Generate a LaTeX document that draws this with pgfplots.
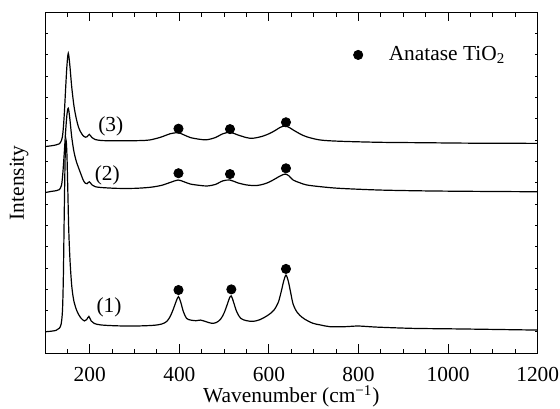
\documentclass[border=0pt]{standalone}
\usepackage{fontspec}
\setmainfont{Liberation Serif}
\usepackage{pgfplots}
\pgfplotsset{compat=1.18}

\begin{document}
\fontsize{10.7}{12.8}\selectfont
\begin{tikzpicture}
% fixed page: 560x408 px at 0.5pt per px, axis box at (45,12.3)-(537.7,353.3) px
\path[use as bounding box] (-22.5pt,-27.35pt) rectangle (257.5pt,176.65pt);
\begin{axis}[
    at={(0,0)}, anchor=south west,
    scale only axis,
    width=246.35pt,
    height=170.5pt,
    xmin=100, xmax=1200,
    ymin=0, ymax=16,
    xtick={200,400,600,800,1000,1200},
    xticklabels={200,400,600,800,1000,1200},
    minor x tick num=3,
    extra x ticks={150},
    extra x tick labels={},
    extra x tick style={major tick length=2.2pt},
    xtick pos=both,
    xtick align=inside,
    x tick style={draw=black, solid, line width=0.5pt},
    ytick=\empty,
    extra y ticks={1,2,3,4,5,6,7,8,9,10,11,12,13,14,15},
    extra y tick labels={},
    extra y tick style={major tick length=1.6pt},
    tick align=inside,
    tick style={black, line width=0.5pt},
    major tick length=4.5pt,
    minor tick length=2.2pt,
    xticklabel shift=3pt,
    xlabel={Wavenumber (cm\textsuperscript{−1})},
    ylabel={Intensity},
    xlabel style={at={(axis description cs:0.5,-0.1457)}, anchor=base},
    ylabel style={at={(axis description cs:-0.0528,0.5)}, anchor=center},
    legend style={draw=none, fill=none, inner sep=0pt, column sep=11pt,
        at={(axis description cs:0.6255,0.875)}, anchor=west},
    legend cell align=left,
]
% (1)
\addplot[black, line width=0.6pt, smooth, forget plot] coordinates {
(100,1.01)(115,1.04)(125,1.08)(132,1.18)(136,1.37)(139,2.0)(141,3.6)(143,6.6)(145,9.2)(147,10.0)(149,9.3)(151,7.6)(153,5.8)(156,4.3)(160,3.1)(165,2.4)(172,1.95)(180,1.66)(188,1.52)(193,1.58)(198,1.73)(203,1.52)(210,1.40)(225,1.33)(260,1.29)(300,1.28)(340,1.31)(360,1.37)(372,1.50)(380,1.75)(387,2.1)(393,2.45)(398,2.66)(403,2.4)(409,1.95)(416,1.64)(425,1.56)(437,1.53)(447,1.56)(460,1.48)(472,1.41)(482,1.44)(492,1.6)(500,1.9)(507,2.3)(512,2.6)(516,2.69)(521,2.4)(528,1.95)(537,1.64)(550,1.53)(565,1.50)(580,1.58)(595,1.75)(605,1.9)(612,2.05)(621,2.4)(628,2.95)(633,3.4)(638,3.67)(643,3.4)(648,2.9)(654,2.3)(662,1.95)(669,1.78)(680,1.6)(698,1.41)(715,1.33)(736,1.25)(770,1.25)(800,1.28)(840,1.23)(921,1.17)(1000,1.15)(1071,1.13)(1200,1.09)
};
% (2)
\addplot[black, line width=0.6pt, smooth, forget plot] coordinates {
(100,7.54)(115,7.6)(125,7.63)(132,7.68)(137,7.9)(140,8.5)(143,9.4)(146,10.4)(149,11.2)(152,11.5)(155.5,11.0)(159.6,10.16)(164.7,9.45)(170,9.0)(175,8.7)(180,8.42)(185.5,8.12)(190,7.98)(194,7.96)(199,8.05)(205,7.9)(212,7.82)(225,7.78)(260,7.74)(300,7.74)(335,7.79)(360,7.88)(380,8.02)(397,8.13)(410,8.05)(425,7.94)(445,7.88)(462,7.85)(480,7.92)(497,8.09)(513,8.13)(530,8.0)(550,7.9)(572,7.87)(590,7.95)(602,8.05)(615,8.2)(625,8.32)(636,8.41)(645,8.32)(654,8.13)(669,8.0)(684,7.9)(714,7.82)(758,7.74)(848,7.66)(950,7.62)(1050,7.6)(1200,7.58)
};
% (3)
\addplot[black, line width=0.6pt, smooth, forget plot] coordinates {
(100,9.7)(115,9.74)(125,9.78)(132,9.83)(137,10.0)(140,10.35)(143,11.2)(146,12.4)(149,13.5)(152,14.08)(155.5,13.5)(159.6,12.51)(164.7,11.6)(170,11.0)(175,10.6)(180,10.37)(185.5,10.2)(190,10.14)(194,10.16)(199,10.27)(205,10.12)(212,10.03)(230,9.98)(270,9.97)(310,9.98)(334,10.01)(360,10.15)(379,10.3)(397,10.35)(410,10.25)(425,10.12)(446,10.04)(461,10.02)(480,10.12)(497,10.3)(513,10.37)(530,10.25)(550,10.12)(564,10.09)(585,10.18)(602,10.32)(615,10.47)(625,10.6)(636,10.67)(645,10.6)(654,10.48)(669,10.3)(684,10.16)(714,10.01)(758,9.95)(848,9.9)(950,9.88)(1050,9.86)(1200,9.85)
};
% anatase peaks
\addplot[only marks, mark=*, mark size=2.3pt, black] coordinates {
(398,2.97)(516,3.0)(638,3.96)
(398,8.45)(513,8.41)(638,8.68)
(398,10.54)(513,10.52)(638,10.84)
};
\addlegendentry{Anatase TiO\textsubscript{2}}
\node at (axis cs:243,2.15) {(1)};
\node at (axis cs:239,8.37) {(2)};
\node at (axis cs:247,10.65) {(3)};
\end{axis}
\end{tikzpicture}
\end{document}
